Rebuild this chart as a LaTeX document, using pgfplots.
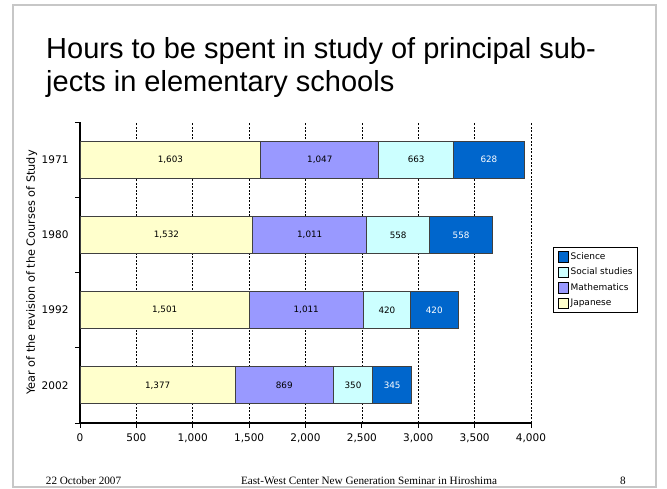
\documentclass[border=0pt]{standalone}
\usepackage{fontspec}
\setmainfont{Liberation Sans}
\newfontfamily\dejavu{DejaVu Sans}
\newfontfamily\serif{Liberation Serif}
\usepackage{pgfplots}
\pgfplotsset{compat=1.18}
\usepackage{pgfplotstable}

\definecolor{jap}{HTML}{FFFFCC}
\definecolor{mathc}{HTML}{9999FF}
\definecolor{soc}{HTML}{CCFFFF}
\definecolor{sci}{HTML}{0066CC}

\pgfkeys{/pgf/number format/.cd, 1000 sep={,}, assume math mode=true}

\pgfplotstableread{
y J M S Sc
3 1603 1047 663 628
2 1532 1011 558 558
1 1501 1011 420 420
0 1377 869 350 345
}\data

\begin{document}
\begin{tikzpicture}[x=1pt,y=1pt]
\path (0,0) rectangle (667,489);
\draw[black!22, line width=1.5pt] (13,2) rectangle (656,484);
\node[anchor=base west, font=\fontsize{29}{33}\selectfont, inner sep=0] at (46,430.7) {Hours to be spent in study of principal sub-};
\node[anchor=base west, font=\fontsize{29}{33}\selectfont, inner sep=0] at (46,397.5) {jects in elementary schools};

\begin{axis}[
  at={(80pt,66pt)}, anchor=south west, scale only axis, width=451pt, height=301pt,
  xbar stacked, bar width=37pt,
  xmin=0, xmax=4000, ymin=-0.5, ymax=3.5,
  axis lines*=left, axis line style={line width=1.4pt, -},
  xtick={0,500,...,4000}, scaled x ticks=false,
  ytick={-0.5,0.5,1.5,2.5,3.5}, yticklabels={},
  extra y ticks={0,1,2,3}, extra y tick labels={2002,1992,1980,1971},
  extra y tick style={major tick length=0pt},
  yticklabel style={xshift=-8pt},
  xticklabel style={yshift=-2.5pt},
  tick align=outside, major tick length=5pt, tick style={black, line width=0.8pt},
  ticklabel style={font=\dejavu\fontsize{10.5}{12}\selectfont},
  xmajorgrids, major grid style={black, line width=0.6pt, dash pattern=on 2pt off 1.5pt},
  ylabel={Year of the revision of the Courses of Study},
  ylabel style={font=\dejavu\fontsize{11.3}{13}\selectfont, at={(axis description cs:-0.1071,0.5)}, anchor=center},
  reverse legend, legend cell align=left,
  legend style={at={(1,0.475)}, anchor=west, xshift=22.3pt, draw=black, line width=0.8pt,
    font=\dejavu\fontsize{9}{10}\selectfont, inner xsep=4pt, inner ysep=4.2pt, row sep=4.4pt, column sep=1pt,
    nodes={inner sep=0.8pt, text height=7pt, text depth=2pt}},
  legend image code/.code={\draw[#1, draw=black, line width=0.6pt] (0pt,-5.2pt) rectangle (10.5pt,5.2pt);},
]
\addplot[fill=jap, draw=black!75, line width=0.8pt] table[x=J, y=y]{\data};
\addplot[fill=mathc, draw=black!75, line width=0.8pt] table[x=M, y=y]{\data};
\addplot[fill=soc, draw=black!75, line width=0.8pt] table[x=S, y=y]{\data};
\addplot[fill=sci, draw=black!75, line width=0.8pt] table[x=Sc, y=y]{\data};
\legend{Japanese, Mathematics, Social studies, Science}
\end{axis}

\begin{axis}[
  at={(80pt,66pt)}, anchor=south west, scale only axis, width=451pt, height=301pt,
  xmin=0, xmax=4000, ymin=-0.5, ymax=3.5, hide axis,
  nodes near coords={\pgfmathprintnumber{\pgfplotspointmeta}},
  nodes near coords align=center,
  every node near coord/.append style={font=\dejavu\fontsize{8.8}{10}\selectfont, anchor=center},
]
\addplot[draw=none, mark=none, point meta=explicit] table[x expr=\thisrow{J}/2, y=y, meta=J]{\data};
\addplot[draw=none, mark=none, point meta=explicit] table[x expr=\thisrow{J}+\thisrow{M}/2, y=y, meta=M]{\data};
\addplot[draw=none, mark=none, point meta=explicit] table[x expr=\thisrow{J}+\thisrow{M}+\thisrow{S}/2, y=y, meta=S]{\data};
\addplot[draw=none, mark=none, point meta=explicit, every node near coord/.append style={text=white}] table[x expr=\thisrow{J}+\thisrow{M}+\thisrow{S}+\thisrow{Sc}/2, y=y, meta=Sc]{\data};
\end{axis}

\node[font=\serif\fontsize{11.2}{13}\selectfont, anchor=base west, inner sep=0] at (45.7,4.2) {22 October 2007};
\node[font=\serif\fontsize{11.2}{13}\selectfont, anchor=base, inner sep=0] at (369,4.2) {East-West Center New Generation Seminar in Hiroshima};
\node[font=\serif\fontsize{11.2}{13}\selectfont, anchor=base, inner sep=0] at (623,4.2) {8};
\end{tikzpicture}
\end{document}
